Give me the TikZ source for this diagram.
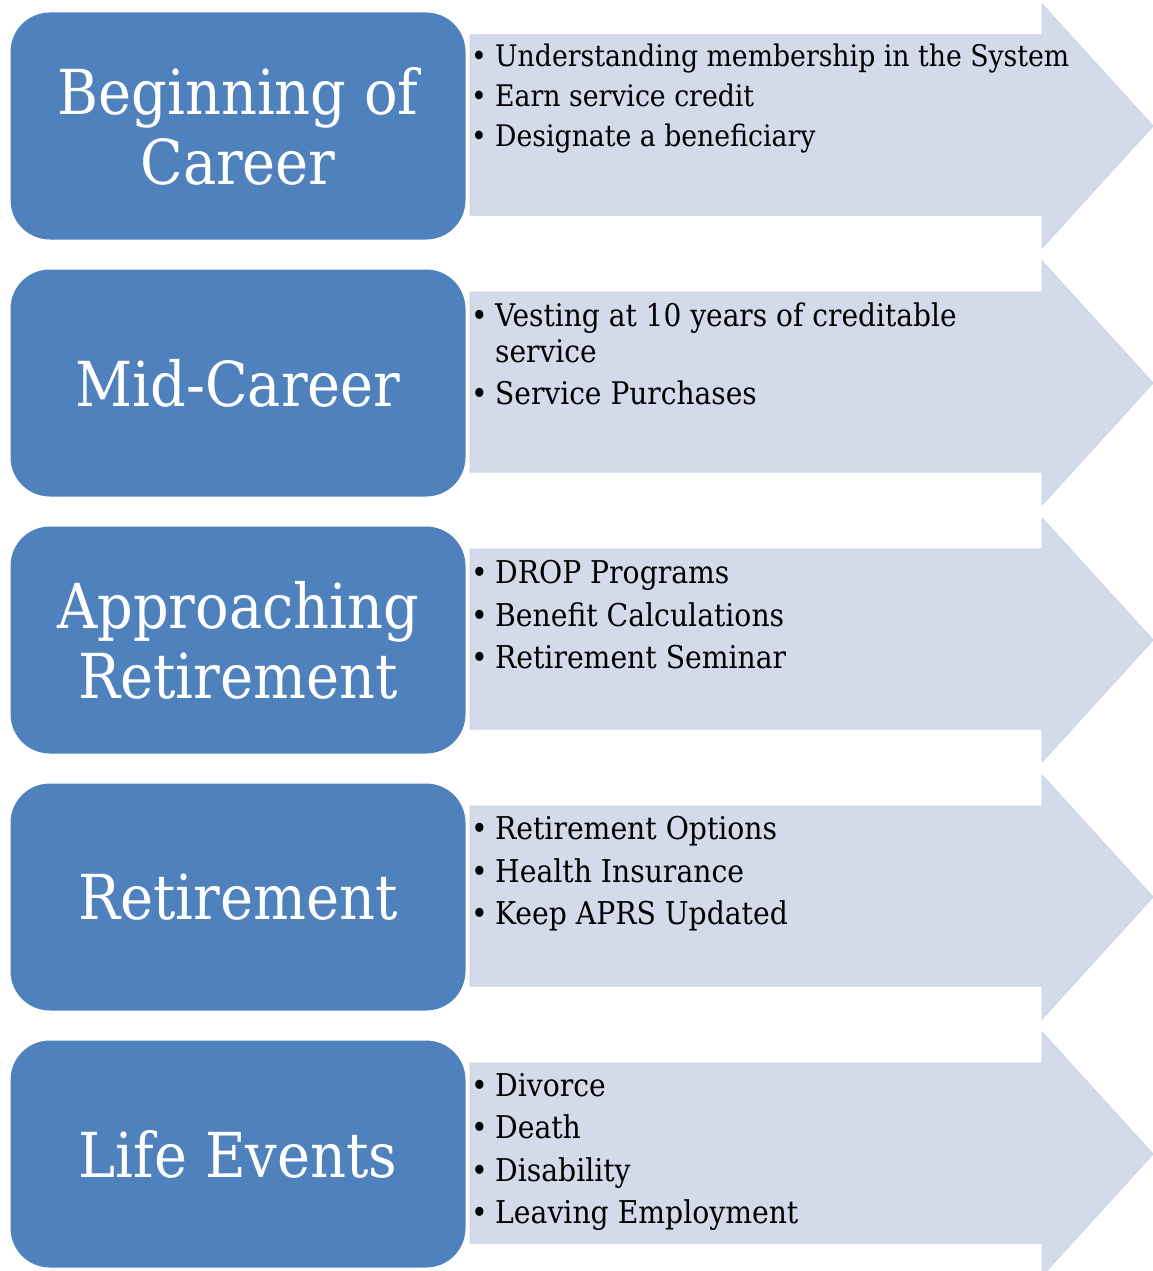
\documentclass[tikz,border=0pt]{standalone}
\usepackage{fontspec}
\setmainfont{DejaVu Serif Condensed}
\definecolor{boxblue}{HTML}{4F81BD}
\definecolor{arrowblue}{HTML}{D3DAEA}
\definecolor{arrowedge}{HTML}{CBD3E6}
\newcommand\itm{\makebox[24pt][l]{\textbullet}}

\begin{document}
\begin{tikzpicture}[x = 1pt, y = -1pt,
	stagebox/.style = {draw = white, line width = 2pt, fill = boxblue, rounded corners = 40pt,
		minimum width = 457pt, minimum height = 229pt, inner sep = 0pt,
		text = white, align = center, font = \fontsize{62}{70}\selectfont},
	itemlist/.style = {anchor = north west, inner sep = 0pt, align = left,
		font = \fontsize{31.4}{42.5}\selectfont}]
	\useasboundingbox (0,0) rectangle (1153,1271);
	
	% arrows
	\foreach \i in {0, ..., 4}{
		\begin{scope}[shift={(0,257*\i)}]
			\draw[arrowedge, fill = arrowblue, line width = 1pt] (470,35) -- (1042,35) -- (1042,4)
				-- (1153,126) -- (1042,248) -- (1042,215) -- (470,215) -- cycle;
		\end{scope}
	}
	
	% stages
	\node[stagebox] (begin) at (238,126) {Beginning of\\Career};
	\node[stagebox] (mid) at (238,383) {Mid-Career};
	\node[stagebox] (approach) at (238,640) {Approaching\\Retirement};
	\node[stagebox] (retire) at (238,897) {Retirement};
	\node[stagebox] (life) at (238,1154) {Life Events};
	
	% lists
	\node[itemlist, font = \fontsize{29.7}{40}\selectfont] (beginlist) at (471,44)
		{\itm Understanding membership in the System\\\itm Earn service credit\\\itm Designate a beneficiary};
	\node[itemlist, font = \fontsize{31.2}{42}\selectfont] (midlist) at (471,303)
		{\itm Vesting at 10 years of creditable\\[-6pt]\hspace*{24pt}service\\\itm Service Purchases};
	\node[itemlist] (approachlist) at (471,560)
		{\itm DROP Programs\\\itm Benefit Calculations\\\itm Retirement Seminar};
	\node[itemlist] (retirelist) at (471,816)
		{\itm Retirement Options\\\itm Health Insurance\\\itm Keep APRS Updated};
	\node[itemlist] (lifelist) at (471,1073)
		{\itm Divorce\\\itm Death\\\itm Disability\\\itm Leaving Employment};
	
\end{tikzpicture}
\end{document}
